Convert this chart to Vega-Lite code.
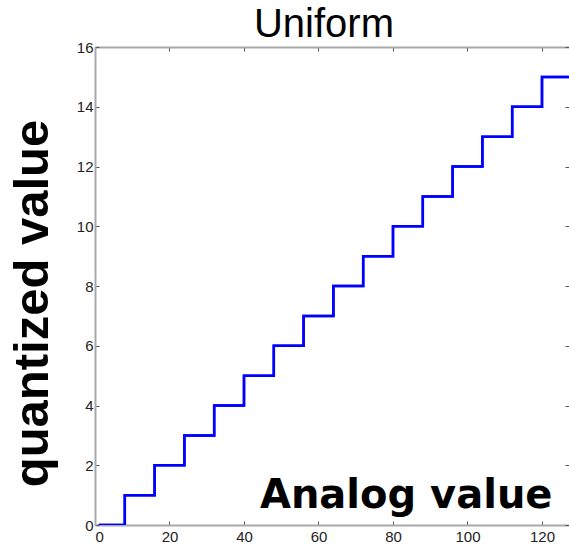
{
  "$schema": "https://vega.github.io/schema/vega-lite/v6.json",
  "autosize": "none",
  "padding": {"left": 95, "top": 47, "right": 0, "bottom": 23},
  "width": 474,
  "height": 478,
  "background": "white",
  "title": {
    "text": "Uniform",
    "font": "Liberation Sans",
    "fontSize": 40,
    "fontWeight": "normal",
    "color": "#000000",
    "offset": -5,
    "dx": -8
  },
  "config": {
    "view": {"stroke": null},
    "axis": {
      "grid": false,
      "domainColor": "#a8a8a8",
      "domainWidth": 2,
      "tickColor": "#555555",
      "tickWidth": 1,
      "tickSize": -4,
      "labelFont": "Liberation Sans",
      "labelFontSize": 15,
      "labelColor": "#222222"
    }
  },
  "data": {
    "values": [
      {"analog": 1, "quantized": 0},
      {"analog": 8, "quantized": 1},
      {"analog": 16, "quantized": 2},
      {"analog": 24, "quantized": 3},
      {"analog": 32, "quantized": 4},
      {"analog": 40, "quantized": 5},
      {"analog": 48, "quantized": 6},
      {"analog": 56, "quantized": 7},
      {"analog": 64, "quantized": 8},
      {"analog": 72, "quantized": 9},
      {"analog": 80, "quantized": 10},
      {"analog": 88, "quantized": 11},
      {"analog": 96, "quantized": 12},
      {"analog": 104, "quantized": 13},
      {"analog": 112, "quantized": 14},
      {"analog": 120, "quantized": 15},
      {"analog": 128, "quantized": 15}
    ]
  },
  "layer": [
    {
      "mark": {"type": "line", "interpolate": "step-after", "color": "#0000ff", "strokeWidth": 2.5, "clip": true},
      "encoding": {
        "x": {
          "field": "analog", "type": "quantitative",
          "scale": {"domain": [0, 127.25], "nice": false, "zero": false},
          "axis": {
            "orient": "bottom",
            "values": [0, 20, 40, 60, 80, 100, 120],
            "labelPadding": 8,
            "title": "Analog value",
            "titleFont": "DejaVu Sans",
            "titleFontSize": 40,
            "titleFontWeight": "bold",
            "titleColor": "#000000",
            "titleAlign": "right",
            "titleAnchor": null,
            "titleBaseline": "alphabetic",
            "titleX": 457,
            "titleY": -18
          }
        },
        "y": {
          "field": "quantized", "type": "quantitative",
          "scale": {"domain": [0, 16], "nice": false},
          "axis": {
            "orient": "left",
            "values": [0, 2, 4, 6, 8, 10, 12, 14, 16],
            "labelPadding": 6,
            "title": "quantized value",
            "titleFont": "Liberation Sans",
            "titleFontSize": 49,
            "titleFontWeight": "bold",
            "titleColor": "#000000",
            "titleAngle": -90,
            "titleAlign": "center",
            "titleAnchor": null,
            "titleBaseline": "alphabetic",
            "titleX": -48,
            "titleY": 256
          }
        }
      }
    },
    {
      "mark": {"type": "line", "interpolate": "step-after", "color": "#0000ff", "strokeWidth": 2.5, "clip": true},
      "encoding": {
        "x": {
          "field": "analog", "type": "quantitative",
          "scale": {"domain": [0, 127.25], "nice": false, "zero": false},
          "axis": {"orient": "top", "values": [0, 20, 40, 60, 80, 100, 120], "labels": false, "title": null}
        },
        "y": {
          "field": "quantized", "type": "quantitative",
          "scale": {"domain": [0, 16], "nice": false},
          "axis": {"orient": "right", "values": [0, 2, 4, 6, 8, 10, 12, 14, 16], "labels": false, "title": null, "domain": false}
        }
      }
    }
  ],
  "resolve": {"axis": {"x": "independent", "y": "independent"}}
}
